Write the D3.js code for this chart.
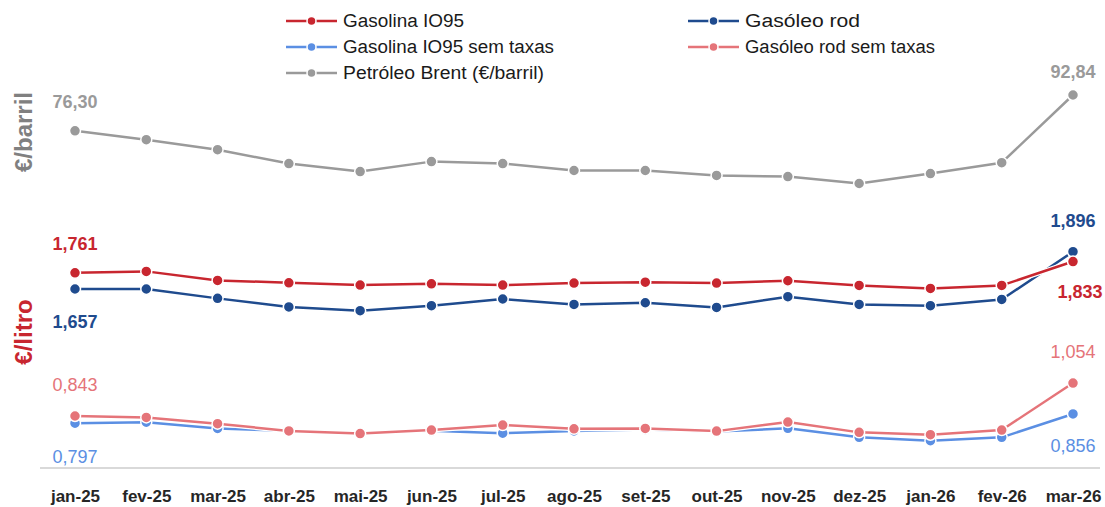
<!DOCTYPE html>
<html>
<head>
<meta charset="utf-8">
<script src="https://cdn.jsdelivr.net/npm/d3@7/dist/d3.min.js"></script>
<style>
  html, body { margin: 0; padding: 0; background: #fff; }
  svg { display: block; font-family: "Liberation Sans", Arial, sans-serif; }
</style>
</head>
<body>
<svg id="chart" width="1105" height="507"></svg>
<script>
// Monthly fuel prices (€/litro) and Brent crude (€/barril)
const months = ["jan-25","fev-25","mar-25","abr-25","mai-25","jun-25","jul-25","ago-25","set-25","out-25","nov-25","dez-25","jan-26","fev-26","mar-26"];
const gasolina = [1.761, 1.770, 1.712, 1.697, 1.682, 1.690, 1.682, 1.695, 1.701, 1.695, 1.710, 1.680, 1.661, 1.680, 1.833];
const gasoleo = [1.657, 1.657, 1.597, 1.542, 1.518, 1.550, 1.593, 1.558, 1.569, 1.539, 1.608, 1.558, 1.550, 1.590, 1.896];
const gasolinaSemTaxas = [0.797, 0.803, 0.763, 0.748, 0.731, 0.748, 0.733, 0.747, 0.756, 0.743, 0.764, 0.706, 0.685, 0.706, 0.856];
const gasoleoSemTaxas = [0.843, 0.834, 0.794, 0.747, 0.730, 0.753, 0.785, 0.761, 0.763, 0.746, 0.804, 0.738, 0.723, 0.753, 1.054];
const brent = [76.30, 72.2, 67.6, 61.2, 57.5, 62.1, 61.2, 58.0, 58.0, 55.7, 55.2, 52.0, 56.6, 61.6, 92.84];

const litroDomain = [0.5, 3.0];
const barrilDomain = [-80, 100];

const svg = d3.select("#chart");
const plot = { left: 40, right: 1100, top: 79.5, bottom: 469.5, axisY: 468 };

const x = d3.scalePoint().domain(months).range([75, 1073]);
const yL = d3.scaleLinear().domain(litroDomain).range([plot.bottom, plot.top]);
const yB = d3.scaleLinear().domain(barrilDomain).range([plot.bottom, plot.top]);

const fmt = d3.formatLocale({ decimal: ",", thousands: ".", grouping: [3], currency: ["€", ""] });
const f3 = fmt.format(".3f");
const f2 = fmt.format(".2f");

const series = [
  { name: "Gasolina IO95", values: gasolina, y: yL, color: "#C8262F", legend: [0, 0], w: 121 },
  { name: "Gasóleo rod", values: gasoleo, y: yL, color: "#1F4B8E", legend: [1, 0], w: 115 },
  { name: "Gasolina IO95 sem taxas", values: gasolinaSemTaxas, y: yL, color: "#5B8FE3", legend: [0, 1], w: 211 },
  { name: "Gasóleo rod sem taxas", values: gasoleoSemTaxas, y: yL, color: "#E57479", legend: [1, 1], w: 190 },
  { name: "Petróleo Brent (€/barril)", values: brent, y: yB, color: "#9A9A9A", legend: [0, 2], w: 201 }
];

// baseline axis
svg.append("line")
  .attr("x1", plot.left).attr("x2", plot.right)
  .attr("y1", plot.axisY).attr("y2", plot.axisY)
  .attr("stroke", "#D9D9D9").attr("stroke-width", 2);

// x axis labels
const xAxis = d3.axisBottom(x).tickSize(0).tickPadding(0);
svg.append("g")
  .attr("transform", `translate(0,${plot.axisY + 22})`)
  .call(xAxis)
  .call(g => g.select(".domain").remove())
  .call(g => g.selectAll("text")
    .attr("font-family", "'Liberation Sans Narrow', 'Liberation Sans', Arial, sans-serif")
    .attr("font-size", 17).attr("font-weight", "bold").attr("fill", "#262626"));

// series lines and markers
const draw = ["Petróleo Brent (€/barril)", "Gasolina IO95 sem taxas", "Gasóleo rod sem taxas", "Gasóleo rod", "Gasolina IO95"];
draw.forEach(n => {
  const s = series.find(d => d.name === n);
  const line = d3.line().x((d, i) => x(months[i])).y(d => s.y(d));
  const g = svg.append("g");
  g.append("path").datum(s.values)
    .attr("d", line).attr("fill", "none")
    .attr("stroke", "#fff").attr("stroke-width", 5).attr("stroke-linejoin", "round");
  g.append("path").datum(s.values)
    .attr("d", line).attr("fill", "none")
    .attr("stroke", s.color).attr("stroke-width", 2.5).attr("stroke-linejoin", "round");
  g.selectAll("circle").data(s.values).join("circle")
    .attr("cx", (d, i) => x(months[i])).attr("cy", d => s.y(d))
    .attr("r", 5.5).attr("fill", s.color)
    .attr("stroke", "#fff").attr("stroke-width", 1.5);
});

// first and last value labels
const labels = [
  { s: "Petróleo Brent (€/barril)", i: 0, dy: -29, bold: true, f: f2 },
  { s: "Petróleo Brent (€/barril)", i: 14, dy: -23, bold: true, f: f2 },
  { s: "Gasolina IO95", i: 0, dy: -29, bold: true, f: f3 },
  { s: "Gasolina IO95", i: 14, dy: 30, bold: true, f: f3, dx: 7 },
  { s: "Gasóleo rod", i: 0, dy: 33, bold: true, f: f3 },
  { s: "Gasóleo rod", i: 14, dy: -31, bold: true, f: f3 },
  { s: "Gasóleo rod sem taxas", i: 0, dy: -31, bold: false, f: f3 },
  { s: "Gasóleo rod sem taxas", i: 14, dy: -31, bold: false, f: f3 },
  { s: "Gasolina IO95 sem taxas", i: 0, dy: 34, bold: false, f: f3 },
  { s: "Gasolina IO95 sem taxas", i: 14, dy: 32, bold: false, f: f3 }
];
svg.append("g").selectAll("text").data(labels).join("text")
  .each(function (d) {
    const s = series.find(e => e.name === d.s);
    const v = s.values[d.i];
    d3.select(this)
      .attr("x", x(months[d.i]) + (d.dx || 0))
      .attr("y", s.y(v) + d.dy)
      .attr("text-anchor", "middle").attr("dominant-baseline", "central")
      .attr("font-size", 18).attr("font-weight", d.bold ? "bold" : "normal")
      .attr("fill", s.color)
      .text(d.f(v));
  });

// axis titles
svg.append("text")
  .attr("transform", `translate(23,132) rotate(-90)`)
  .attr("text-anchor", "middle").attr("dominant-baseline", "central")
  .attr("font-size", 24).attr("font-weight", "bold").attr("fill", "#808080")
  .text("€/barril");
svg.append("text")
  .attr("transform", `translate(23,332) rotate(-90)`)
  .attr("text-anchor", "middle").attr("dominant-baseline", "central")
  .attr("font-size", 24).attr("font-weight", "bold").attr("fill", "#C8262F")
  .text("€/litro");

// legend
const legCols = [286, 688];
const legRows = [21, 47, 73];
const leg = svg.append("g").selectAll("g").data(series).join("g")
  .attr("transform", d => `translate(${legCols[d.legend[0]]},${legRows[d.legend[1]]})`);
leg.append("line").attr("x1", 0).attr("x2", 51).attr("y1", 0).attr("y2", 0)
  .attr("stroke", d => d.color).attr("stroke-width", 2.5);
leg.append("circle").attr("cx", 25.5).attr("cy", 0).attr("r", 4.5)
  .attr("fill", d => d.color).attr("stroke", "#fff").attr("stroke-width", 1.5);
leg.append("text").attr("x", 57).attr("y", 0).attr("dominant-baseline", "central")
  .attr("font-size", 18).attr("fill", "#1a1a1a")
  .attr("textLength", d => d.w).attr("lengthAdjust", "spacingAndGlyphs")
  .text(d => d.name);
</script>
</body>
</html>
